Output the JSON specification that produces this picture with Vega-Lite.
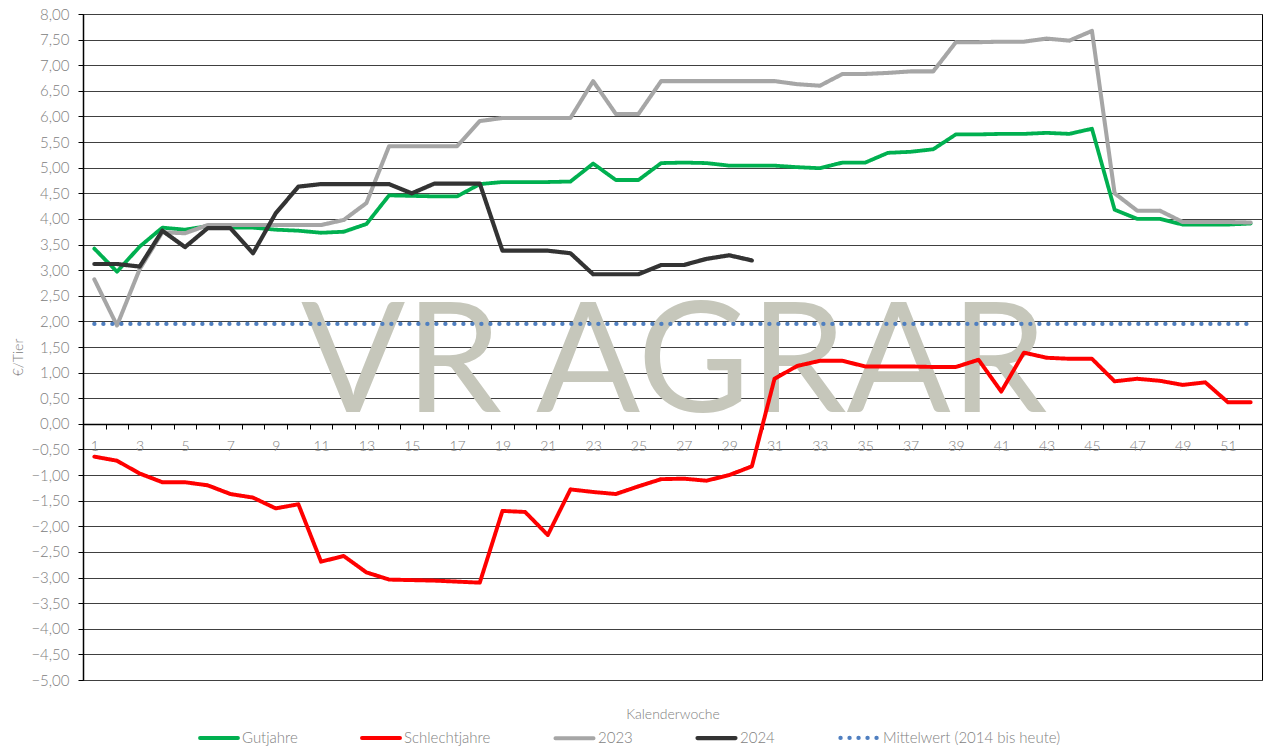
{
  "$schema": "https://vega.github.io/schema/vega-lite/v6.json",
  "width": 1179,
  "height": 666,
  "autosize": {"type": "none"},
  "padding": {"left": 83, "top": 14, "right": 1, "bottom": 73},
  "background": "white",
  "config": {"view": {"stroke": "#000", "strokeWidth": 1}, "font": "Lato"},
  "datasets": {
    "wm": [{"w": 26, "v": 0.24, "t": "VR AGRAR"}],
    "series": [
      {"s":"Gutjahre","w":1,"v":3.42},{"s":"Gutjahre","w":2,"v":2.97},{"s":"Gutjahre","w":3,"v":3.46},{"s":"Gutjahre","w":4,"v":3.83},{"s":"Gutjahre","w":5,"v":3.79},{"s":"Gutjahre","w":6,"v":3.86},{"s":"Gutjahre","w":7,"v":3.83},{"s":"Gutjahre","w":8,"v":3.83},{"s":"Gutjahre","w":9,"v":3.79},{"s":"Gutjahre","w":10,"v":3.77},{"s":"Gutjahre","w":11,"v":3.73},{"s":"Gutjahre","w":12,"v":3.75},{"s":"Gutjahre","w":13,"v":3.90},{"s":"Gutjahre","w":14,"v":4.46},{"s":"Gutjahre","w":15,"v":4.45},{"s":"Gutjahre","w":16,"v":4.44},{"s":"Gutjahre","w":17,"v":4.44},{"s":"Gutjahre","w":18,"v":4.68},{"s":"Gutjahre","w":19,"v":4.72},{"s":"Gutjahre","w":20,"v":4.72},{"s":"Gutjahre","w":21,"v":4.72},{"s":"Gutjahre","w":22,"v":4.73},{"s":"Gutjahre","w":23,"v":5.08},{"s":"Gutjahre","w":24,"v":4.76},{"s":"Gutjahre","w":25,"v":4.76},{"s":"Gutjahre","w":26,"v":5.09},{"s":"Gutjahre","w":27,"v":5.10},{"s":"Gutjahre","w":28,"v":5.09},{"s":"Gutjahre","w":29,"v":5.04},{"s":"Gutjahre","w":30,"v":5.04},{"s":"Gutjahre","w":31,"v":5.04},{"s":"Gutjahre","w":32,"v":5.01},{"s":"Gutjahre","w":33,"v":4.99},{"s":"Gutjahre","w":34,"v":5.10},{"s":"Gutjahre","w":35,"v":5.10},{"s":"Gutjahre","w":36,"v":5.29},{"s":"Gutjahre","w":37,"v":5.31},{"s":"Gutjahre","w":38,"v":5.36},{"s":"Gutjahre","w":39,"v":5.65},{"s":"Gutjahre","w":40,"v":5.65},{"s":"Gutjahre","w":41,"v":5.66},{"s":"Gutjahre","w":42,"v":5.66},{"s":"Gutjahre","w":43,"v":5.68},{"s":"Gutjahre","w":44,"v":5.66},{"s":"Gutjahre","w":45,"v":5.76},{"s":"Gutjahre","w":46,"v":4.18},{"s":"Gutjahre","w":47,"v":4.00},{"s":"Gutjahre","w":48,"v":4.00},{"s":"Gutjahre","w":49,"v":3.89},{"s":"Gutjahre","w":50,"v":3.89},{"s":"Gutjahre","w":51,"v":3.89},{"s":"Gutjahre","w":52,"v":3.91},
      {"s":"Schlechtjahre","w":1,"v":-0.64},{"s":"Schlechtjahre","w":2,"v":-0.72},{"s":"Schlechtjahre","w":3,"v":-0.97},{"s":"Schlechtjahre","w":4,"v":-1.14},{"s":"Schlechtjahre","w":5,"v":-1.14},{"s":"Schlechtjahre","w":6,"v":-1.20},{"s":"Schlechtjahre","w":7,"v":-1.37},{"s":"Schlechtjahre","w":8,"v":-1.44},{"s":"Schlechtjahre","w":9,"v":-1.65},{"s":"Schlechtjahre","w":10,"v":-1.57},{"s":"Schlechtjahre","w":11,"v":-2.69},{"s":"Schlechtjahre","w":12,"v":-2.58},{"s":"Schlechtjahre","w":13,"v":-2.90},{"s":"Schlechtjahre","w":14,"v":-3.04},{"s":"Schlechtjahre","w":15,"v":-3.05},{"s":"Schlechtjahre","w":16,"v":-3.06},{"s":"Schlechtjahre","w":17,"v":-3.08},{"s":"Schlechtjahre","w":18,"v":-3.10},{"s":"Schlechtjahre","w":19,"v":-1.70},{"s":"Schlechtjahre","w":20,"v":-1.72},{"s":"Schlechtjahre","w":21,"v":-2.17},{"s":"Schlechtjahre","w":22,"v":-1.28},{"s":"Schlechtjahre","w":23,"v":-1.33},{"s":"Schlechtjahre","w":24,"v":-1.37},{"s":"Schlechtjahre","w":25,"v":-1.22},{"s":"Schlechtjahre","w":26,"v":-1.08},{"s":"Schlechtjahre","w":27,"v":-1.07},{"s":"Schlechtjahre","w":28,"v":-1.11},{"s":"Schlechtjahre","w":29,"v":-1.00},{"s":"Schlechtjahre","w":30,"v":-0.83},{"s":"Schlechtjahre","w":31,"v":0.88},{"s":"Schlechtjahre","w":32,"v":1.13},{"s":"Schlechtjahre","w":33,"v":1.23},{"s":"Schlechtjahre","w":34,"v":1.23},{"s":"Schlechtjahre","w":35,"v":1.12},{"s":"Schlechtjahre","w":36,"v":1.12},{"s":"Schlechtjahre","w":37,"v":1.12},{"s":"Schlechtjahre","w":38,"v":1.11},{"s":"Schlechtjahre","w":39,"v":1.11},{"s":"Schlechtjahre","w":40,"v":1.25},{"s":"Schlechtjahre","w":41,"v":0.63},{"s":"Schlechtjahre","w":42,"v":1.39},{"s":"Schlechtjahre","w":43,"v":1.29},{"s":"Schlechtjahre","w":44,"v":1.27},{"s":"Schlechtjahre","w":45,"v":1.27},{"s":"Schlechtjahre","w":46,"v":0.83},{"s":"Schlechtjahre","w":47,"v":0.88},{"s":"Schlechtjahre","w":48,"v":0.84},{"s":"Schlechtjahre","w":49,"v":0.76},{"s":"Schlechtjahre","w":50,"v":0.81},{"s":"Schlechtjahre","w":51,"v":0.42},{"s":"Schlechtjahre","w":52,"v":0.42},
      {"s":"2023","w":1,"v":2.82},{"s":"2023","w":2,"v":1.92},{"s":"2023","w":3,"v":3.02},{"s":"2023","w":4,"v":3.74},{"s":"2023","w":5,"v":3.72},{"s":"2023","w":6,"v":3.88},{"s":"2023","w":7,"v":3.88},{"s":"2023","w":8,"v":3.88},{"s":"2023","w":9,"v":3.88},{"s":"2023","w":10,"v":3.88},{"s":"2023","w":11,"v":3.88},{"s":"2023","w":12,"v":3.98},{"s":"2023","w":13,"v":4.31},{"s":"2023","w":14,"v":5.42},{"s":"2023","w":15,"v":5.42},{"s":"2023","w":16,"v":5.42},{"s":"2023","w":17,"v":5.42},{"s":"2023","w":18,"v":5.91},{"s":"2023","w":19,"v":5.97},{"s":"2023","w":20,"v":5.97},{"s":"2023","w":21,"v":5.97},{"s":"2023","w":22,"v":5.97},{"s":"2023","w":23,"v":6.69},{"s":"2023","w":24,"v":6.05},{"s":"2023","w":25,"v":6.05},{"s":"2023","w":26,"v":6.69},{"s":"2023","w":27,"v":6.69},{"s":"2023","w":28,"v":6.69},{"s":"2023","w":29,"v":6.69},{"s":"2023","w":30,"v":6.69},{"s":"2023","w":31,"v":6.69},{"s":"2023","w":32,"v":6.63},{"s":"2023","w":33,"v":6.60},{"s":"2023","w":34,"v":6.83},{"s":"2023","w":35,"v":6.83},{"s":"2023","w":36,"v":6.85},{"s":"2023","w":37,"v":6.88},{"s":"2023","w":38,"v":6.88},{"s":"2023","w":39,"v":7.45},{"s":"2023","w":40,"v":7.45},{"s":"2023","w":41,"v":7.46},{"s":"2023","w":42,"v":7.46},{"s":"2023","w":43,"v":7.52},{"s":"2023","w":44,"v":7.48},{"s":"2023","w":45,"v":7.67},{"s":"2023","w":46,"v":4.50},{"s":"2023","w":47,"v":4.16},{"s":"2023","w":48,"v":4.16},{"s":"2023","w":49,"v":3.94},{"s":"2023","w":50,"v":3.94},{"s":"2023","w":51,"v":3.94},{"s":"2023","w":52,"v":3.93},
      {"s":"2024","w":1,"v":3.12},{"s":"2024","w":2,"v":3.12},{"s":"2024","w":3,"v":3.07},{"s":"2024","w":4,"v":3.77},{"s":"2024","w":5,"v":3.45},{"s":"2024","w":6,"v":3.82},{"s":"2024","w":7,"v":3.82},{"s":"2024","w":8,"v":3.33},{"s":"2024","w":9,"v":4.11},{"s":"2024","w":10,"v":4.63},{"s":"2024","w":11,"v":4.68},{"s":"2024","w":12,"v":4.68},{"s":"2024","w":13,"v":4.68},{"s":"2024","w":14,"v":4.68},{"s":"2024","w":15,"v":4.50},{"s":"2024","w":16,"v":4.69},{"s":"2024","w":17,"v":4.69},{"s":"2024","w":18,"v":4.69},{"s":"2024","w":19,"v":3.38},{"s":"2024","w":20,"v":3.38},{"s":"2024","w":21,"v":3.38},{"s":"2024","w":22,"v":3.33},{"s":"2024","w":23,"v":2.92},{"s":"2024","w":24,"v":2.92},{"s":"2024","w":25,"v":2.92},{"s":"2024","w":26,"v":3.10},{"s":"2024","w":27,"v":3.10},{"s":"2024","w":28,"v":3.22},{"s":"2024","w":29,"v":3.29},{"s":"2024","w":30,"v":3.19},
      {"s":"Mittelwert (2014 bis heute)","w":1,"v":1.95},{"s":"Mittelwert (2014 bis heute)","w":52,"v":1.95}
    ]
  },
  "encoding": {
    "x": {
      "field": "w", "type": "ordinal",
      "scale": {"type": "band", "domain": [1,2,3,4,5,6,7,8,9,10,11,12,13,14,15,16,17,18,19,20,21,22,23,24,25,26,27,28,29,30,31,32,33,34,35,36,37,38,39,40,41,42,43,44,45,46,47,48,49,50,51,52], "paddingInner": 0, "paddingOuter": 0},
      "axis": {
        "orient": "bottom", "offset": -256, "tickBand": "extent", "labelAngle": 0,
        "labelExpr": "datum.value % 2 === 1 ? datum.label : ''",
        "domainColor": "#000", "domainWidth": 1.5, "tickColor": "#000", "tickSize": 5, "tickWidth": 1,
        "labelColor": "#808080", "labelFontSize": 14, "labelPadding": 10, "labelFontWeight": 300,
        "grid": false,
        "title": "Kalenderwoche", "titleY": 290, "titleBaseline": "middle", "titleFontSize": 14, "titleFontWeight": 300, "titleColor": "#808080"
      }
    },
    "y": {
      "field": "v", "type": "quantitative",
      "scale": {"domain": [-5, 8], "nice": false, "zero": false},
      "axis": {
        "values": [-5,-4.5,-4,-3.5,-3,-2.5,-2,-1.5,-1,-0.5,0,0.5,1,1.5,2,2.5,3,3.5,4,4.5,5,5.5,6,6.5,7,7.5,8],
        "labelExpr": "replace(format(datum.value, '.2f'), '.', ',')",
        "grid": true, "gridColor": "#404040", "gridWidth": 1,
        "domainColor": "#000", "domainWidth": 1.5, "tickColor": "#000", "tickSize": 5,
        "labelColor": "#808080", "labelFontSize": 15, "labelPadding": 9, "labelFontWeight": 300,
        "title": "€/Tier", "titleX": -65, "titleY": 343, "titleAlign": "center", "titleBaseline": "middle",
        "titleFontSize": 14, "titleFontWeight": 300, "titleColor": "#808080"
      }
    }
  },
  "layer": [
    {
      "data": {"name": "wm"},
      "mark": {"type": "text", "align": "center", "baseline": "alphabetic", "font": "Lato", "fontWeight": 400, "fontSize": 154, "color": "#c6c7bb", "dx": 13},
      "encoding": {"text": {"field": "t"}}
    },
    {
      "data": {"name": "series"},
      "mark": {"type": "line", "strokeCap": "round", "strokeJoin": "round"},
      "encoding": {
        "color": {
          "field": "s", "type": "nominal",
          "scale": {"domain": ["Gutjahre","Schlechtjahre","2023","2024","Mittelwert (2014 bis heute)"], "range": ["#00B050","#FF0000","#A6A6A6","#333333","#4F7FC0"]},
          "legend": {
            "orient": "none", "legendX": 115, "legendY": 702, "direction": "horizontal", "title": null,
            "symbolType": "stroke", "symbolSize": 1444, "symbolStrokeWidth": 4,
            "labelFontSize": 15, "labelColor": "#7f7f7f", "labelFontWeight": 300, "labelOffset": 2, "labelLimit": 400, "columnPadding": 56,
            "encode": {"symbols": {"update": {"strokeCap": {"value": "round"}}}}
          }
        },
        "strokeDash": {
          "field": "s", "type": "nominal",
          "scale": {"domain": ["Gutjahre","Schlechtjahre","2023","2024","Mittelwert (2014 bis heute)"], "range": [[1,0],[1,0],[1,0],[1,0],[0.1,8.9]]}
        },
        "strokeWidth": {
          "field": "s", "type": "nominal",
          "scale": {"domain": ["Gutjahre","Schlechtjahre","2023","2024","Mittelwert (2014 bis heute)"], "range": [3.8, 4.3, 4, 5.5, 3]}
        }
      }
    }
  ]
}
